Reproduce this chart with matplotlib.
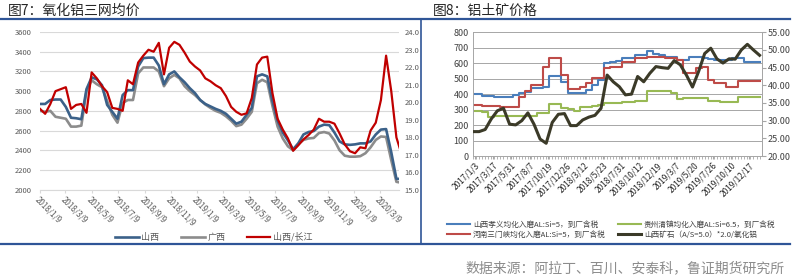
import numpy as np
import pandas as pd
import matplotlib
matplotlib.use('Agg')
import matplotlib.pyplot as plt
from matplotlib.lines import Line2D

plt.rcParams['font.family'] = ['Noto Sans CJK SC', 'DejaVu Sans']

# ---------------- 图7: 氧化铝三网均价 (one reading every 12 days)
alumina_dates = pd.date_range('2018-01-09', periods=71, freq='12D')
shanxi = [2870, 2870, 2910, 2915, 2915, 2840, 2730, 2725, 2715, 3020,
          3140, 3120, 3060, 2860, 2790, 2720, 2960, 3010, 3010, 3250,
          3335, 3340, 3340, 3260, 3070, 3170, 3200, 3140, 3090, 3030,
          2980, 2910, 2870, 2845, 2820, 2800, 2770, 2720, 2670, 2690,
          2760, 2830, 3150, 3170, 3150, 2900, 2700, 2580, 2500, 2410,
          2470, 2560, 2585, 2595, 2640, 2660, 2655, 2580, 2490, 2460,
          2455, 2460, 2470, 2470, 2490, 2560, 2610, 2615, 2380, 2110, 2110]
guangxi = [2800, 2790, 2800, 2740, 2730, 2720, 2640, 2640, 2650, 3000,
           3110, 3070, 3040, 2900, 2760, 2680, 2880, 2910, 2910, 3180,
           3240, 3240, 3240, 3200, 3050, 3130, 3165, 3130, 3050, 3000,
           2960, 2910, 2865, 2830, 2800, 2780, 2745, 2700, 2645, 2660,
           2720, 2790, 3080, 3115, 3090, 2850, 2640, 2520, 2440, 2400,
           2465, 2505, 2520, 2525, 2575, 2585, 2570, 2500, 2400, 2345,
           2335, 2335, 2340, 2370, 2430, 2505, 2540, 2535, 2300, 2080, 2070]
shanxi_cj = [2820, 2770, 2870, 3000, 3020, 3040, 2820, 2860, 2870, 2780,
             3190, 3130, 3050, 2990, 2830, 2820, 2800, 3110, 3070, 3290,
             3360, 3420, 3400, 3490, 3170, 3440, 3500, 3470, 3390, 3300,
             3250, 3210, 3130, 3100, 3060, 3030, 2950, 2840, 2790, 2760,
             2775, 2930, 3270, 3340, 3350, 2980, 2720, 2610, 2520, 2395,
             2450, 2510, 2555, 2610, 2720, 2690, 2690, 2670, 2570, 2460,
             2390, 2370, 2430, 2420, 2600, 2680, 2910, 3360, 3000, 2530, 2360]
alumina_ticks = ['2018/1/9', '2018/3/9', '2018/5/9', '2018/7/9', '2018/9/9',
                 '2018/11/9', '2019/1/9', '2019/3/9', '2019/5/9', '2019/7/9',
                 '2019/9/9', '2019/11/9', '2020/1/9', '2020/3/9']

# ---------------- 图8: 铝土矿价格 (category axis)
bauxite_ticks = ['2017/1/3', '2017/3/17', '2017/5/31', '2017/8/7', '2017/10/19',
                 '2017/12/26', '2018/3/12', '2018/5/23', '2018/7/31', '2018/10/12',
                 '2018/12/19', '2019/3/7', '2019/5/20', '2019/7/26', '2019/10/10',
                 '2019/12/17']
xiaoyi = [400, 400, 390, 390, 383, 383, 383, 393, 405, 415,
          437, 440, 448, 520, 520, 480, 410, 405, 405, 425,
          460, 490, 600, 610, 615, 632, 632, 653, 653, 680,
          660, 653, 642, 642, 621, 621, 642, 642, 632, 625,
          621, 621, 621, 632, 632, 610, 610, 610]
sanmenxia = [330, 330, 323, 323, 323, 319, 319, 319, 384, 420,
             459, 459, 578, 636, 636, 524, 431, 431, 448, 470,
             502, 502, 571, 575, 578, 610, 610, 632, 632, 642,
             642, 642, 632, 632, 621, 535, 535, 567, 578, 492,
             470, 470, 448, 448, 485, 485, 485, 485]
qingzhen = [291, 291, 282, 254, 259, 259, 259, 261, 261, 261,
            261, 276, 276, 334, 334, 308, 304, 291, 319, 319,
            326, 330, 341, 341, 341, 347, 347, 356, 356, 420,
            420, 420, 420, 405, 369, 373, 373, 377, 377, 356,
            356, 347, 347, 347, 384, 384, 384, 384]
ore_ratio = [26.9, 26.9, 27.5, 30.5, 32.8, 33.5, 29.0, 28.8, 30.0, 32.2,
             29.0, 24.8, 23.6, 29.5, 31.8, 32.0, 28.6, 28.6, 30.2, 31.0,
             31.5, 33.5, 42.9, 41.0, 39.6, 37.3, 37.5, 42.5, 41.0, 43.4,
             45.3, 45.0, 44.8, 47.0, 45.8, 42.9, 39.5, 43.9, 49.0, 50.5,
             47.5, 46.3, 47.5, 47.4, 50.0, 51.6, 50.0, 48.5]

W, H = 799, 276
fig = plt.figure(figsize=(W / 100, H / 100), dpi=100)

def fx(px):
    return px / W

def fy(py):
    return 1 - py / H

tick_col = '#595959'

# ---------- left chart
ax1 = fig.add_axes([fx(40), fy(189.7), fx(359), 157.7 / H])
ax1.plot(alumina_dates, shanxi, color='#3B6189', lw=1.9, label='山西', zorder=3)
ax1.plot(alumina_dates, guangxi, color='#8C8C8C', lw=1.9, label='广西', zorder=2)
ax1.plot(alumina_dates, shanxi_cj, color='#C00000', lw=1.6, label='山西/长江', zorder=4)
ax1.set_ylim(2000, 3600)
ax1.set_yticks(np.arange(2000, 3601, 200))
ax1.set_xlim(pd.Timestamp('2018-01-09'), pd.Timestamp('2020-04-22'))
tick_dates = [pd.Timestamp(t.replace('/', '-')) for t in alumina_ticks]
ax1.set_xticks(tick_dates)
ax1.set_xticklabels(alumina_ticks, rotation=-45, ha='left', va='top',
                    rotation_mode='anchor')
ax1.grid(axis='y', color='#D9D9D9', lw=0.8)
ax1.set_axisbelow(True)
for s in ['top', 'right', 'left']:
    ax1.spines[s].set_visible(False)
ax1.spines['bottom'].set_color('#D9D9D9')
ax1.tick_params(axis='y', length=0, pad=6, labelsize=5.5, labelcolor=tick_col)
ax1.tick_params(axis='x', length=2.5, color='#D9D9D9', pad=1, labelsize=5.8,
                labelcolor=tick_col)

ax1r = ax1.twinx()
ax1r.set_ylim(15, 24)
ax1r.set_yticks(np.arange(15, 25, 1))
ax1r.set_yticklabels([f'{v:.1f}' for v in np.arange(15, 25, 1)])
for s in ax1r.spines.values():
    s.set_visible(False)
ax1r.tick_params(axis='y', length=0, pad=4, labelsize=5.5, labelcolor=tick_col)

fig.legend(handles=ax1.get_lines(), loc='center', ncol=3,
           bbox_to_anchor=(fx(214), fy(237)), frameon=False, fontsize=6.5,
           handlelength=2.6, columnspacing=2.4, handletextpad=0.3,
           labelcolor=tick_col)

# ---------- right chart
xb = np.arange(len(xiaoyi))
ax2 = fig.add_axes([fx(473), fy(156), fx(289), 123.7 / H])
l1, = ax2.plot(xb, xiaoyi, color='#4A7EBB', lw=1.5, drawstyle='steps-mid',
               label='山西孝义均化入磨AL:Si=5，到厂含税')
l2, = ax2.plot(xb, sanmenxia, color='#BE4B48', lw=1.5, drawstyle='steps-mid',
               label='河南三门峡均化入磨AL:Si=5，到厂含税')
l3, = ax2.plot(xb, qingzhen, color='#98B954', lw=1.5, drawstyle='steps-mid',
               label='贵州清镇均化入磨AL:Si=6.5，到厂含税')
ax2.set_ylim(0, 800)
ax2.set_yticks(np.arange(0, 801, 100))
ax2.set_xlim(0, 47.4)
ax2.set_xticks(np.arange(len(bauxite_ticks)) * 3 + 0.3)
ax2.set_xticks(np.arange(0, 47.4, 0.5), minor=True)
ax2.set_xticklabels(bauxite_ticks, rotation=45, ha='right', va='top',
                    rotation_mode='anchor')
ax2.grid(axis='y', color='#A6A6A6', lw=0.7)
ax2.set_axisbelow(True)
ax2.spines['top'].set_visible(False)
for s in ['left', 'bottom', 'right']:
    ax2.spines[s].set_color('#A6A6A6')
    ax2.spines[s].set_linewidth(0.7)
ax2.tick_params(axis='y', length=0, pad=3, labelsize=6.5, labelcolor='#404040')
ax2.tick_params(axis='x', which='both', length=2.5, color='#A6A6A6', pad=1,
                labelsize=6, labelcolor='#262626')

ax2r = ax2.twinx()
l4, = ax2r.plot(xb, ore_ratio, color='#3B3A28', lw=2.2,
                label='山西矿石（A/S=5.0）*2.0/氧化铝')
ax2r.set_ylim(20, 55)
ax2r.set_yticks(np.arange(20, 56, 5))
ax2r.set_yticklabels([f'{v:.2f}' for v in np.arange(20, 56, 5)])
ax2r.spines['top'].set_visible(False)
ax2r.spines['left'].set_visible(False)
ax2r.spines['bottom'].set_visible(False)
ax2r.spines['right'].set_color('#A6A6A6')
ax2r.spines['right'].set_linewidth(0.7)
ax2r.tick_params(axis='y', length=3, color='#A6A6A6', pad=1, labelsize=6.5,
                 labelcolor='#404040')

fig.legend(handles=[l1, l2, l3, l4], loc='upper left', ncol=2,
           bbox_to_anchor=(fx(440), fy(214)), frameon=False, fontsize=5.5,
           handlelength=3.0, columnspacing=1.6, handletextpad=0.4,
           labelspacing=0.25, labelcolor='#404040')

# ---------- titles, frame lines, source
fig.text(fx(8), fy(11), '图7：氧化铝三网均价', fontsize=10, color='#262626',
         va='center', ha='left')
fig.text(fx(433), fy(11), '图8：铝土矿价格', fontsize=10, color='#262626',
         va='center', ha='left')
line_col = '#2F5597'
fig.add_artist(Line2D([0, fx(790)], [fy(19), fy(19)], color=line_col, lw=1.6))
fig.add_artist(Line2D([0, fx(790)], [fy(244), fy(244)], color=line_col, lw=1.6))
fig.add_artist(Line2D([fx(421), fx(421)], [fy(19), fy(244)], color=line_col, lw=1.2))
fig.text(fx(785), fy(268), '数据来源：阿拉丁、百川、安泰科，鲁证期货研究所',
         fontsize=10, color='#8C8C8C', ha='right', va='center')

fig.savefig('out.png', dpi=100)
